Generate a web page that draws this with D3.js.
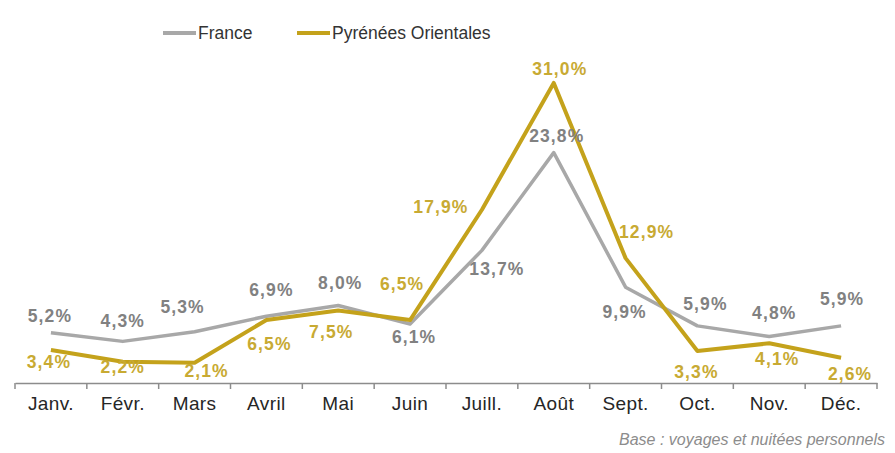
<!DOCTYPE html>
<html>
<head>
<meta charset="utf-8">
<script src="https://cdn.jsdelivr.net/npm/d3@7"></script>
<style>
    body { margin: 0; background: #fff; }
    text { font-family: "Liberation Sans", Arial, sans-serif; }
</style>
</head>
<body>
<svg id="drawing_region"></svg>
<script>
const months = ['Janv.', 'Févr.', 'Mars', 'Avril', 'Mai', 'Juin', 'Juill.', 'Août', 'Sept.', 'Oct.', 'Nov.', 'Déc.'];
const france = [5.2, 4.3, 5.3, 6.9, 8.0, 6.1, 13.7, 23.8, 9.9, 5.9, 4.8, 5.9];
const pyrenees = [3.4, 2.2, 2.1, 6.5, 7.5, 6.5, 17.9, 31.0, 12.9, 3.3, 4.1, 2.6];
const seriesNames = ['France', 'Pyrénées Orientales'];

// label offsets (dx, dy from the point to the text baseline)
const franceLabelPos = [[-1, -11], [0, -14], [-12, -19], [5, -20], [2, -17], [4, 19],
    [15, 25], [3, -11], [-1, 31], [8, -16], [5, -18], [1, -21]];
const pyreneesLabelPos = [[-2, 18], [0, 11], [12, 14], [3, 30], [-7, 28], [-8, -30],
    [-41, 3], [6, -8], [21, -20], [-1, 27], [8, 22], [9, 22]];

class LineChart {

    constructor(config) {
        this.config = config;
        this.init();
    }

    init() {
        let self = this;

        self.svg = d3.select(self.config.parent)
            .attr('width', self.config.width)
            .attr('height', self.config.height);

        self.xscale = d3.scaleBand()
            .domain(months)
            .range([15, 877]);

        self.yscale = d3.scaleLinear()
            .domain([0, 35])
            .range([383, 383 - 9.68 * 35]);

        self.line = d3.line()
            .x((d, i) => self.xscale(months[i]) + self.xscale.bandwidth() / 2)
            .y(d => self.yscale(d));
    }

    render() {
        let self = this;
        const fmt = v => d3.format('.1f')(v).replace('.', ',') + '%';

        // x axis
        const axis = d3.axisBottom(self.xscale).tickSize(0).tickPadding(14);
        const ag = self.svg.append('g')
            .attr('transform', 'translate(0,383)')
            .call(axis);
        ag.select('.domain').attr('stroke', '#8c8c8c').attr('stroke-width', 1.5);
        ag.selectAll('text')
            .attr('font-size', 19)
            .attr('letter-spacing', 0.4)
            .attr('fill', '#262626')
            .attr('font-family', '"Liberation Sans", Arial, sans-serif');
        const bounds = months.map(m => self.xscale(m)).concat([877]);
        ag.selectAll('.sep')
            .data(bounds)
            .enter()
            .append('line')
            .attr('x1', d => d).attr('x2', d => d)
            .attr('y1', 0).attr('y2', 6)
            .attr('stroke', '#8c8c8c')
            .attr('stroke-width', 1.5);

        const series = [
            { name: seriesNames[0], values: france, line: '#a8a8a8', label: '#818181', pos: franceLabelPos, w: 3.5 },
            { name: seriesNames[1], values: pyrenees, line: '#c4a21b', label: '#c8aa33', pos: pyreneesLabelPos, w: 4 }
        ];

        series.forEach(s => {
            self.svg.append('path')
                .datum(s.values)
                .attr('d', self.line)
                .attr('fill', 'none')
                .attr('stroke', s.line)
                .attr('stroke-width', s.w)
                .attr('stroke-linejoin', 'round');
        });

        series.forEach(s => {
            self.svg.selectAll(null)
                .data(s.values)
                .enter()
                .append('text')
                .attr('x', (d, i) => self.xscale(months[i]) + self.xscale.bandwidth() / 2 + s.pos[i][0])
                .attr('y', (d, i) => self.yscale(d) + s.pos[i][1])
                .attr('text-anchor', 'middle')
                .attr('font-size', 17.5)
                .attr('font-weight', 'bold')
                .attr('letter-spacing', 1.1)
                .attr('fill', s.label)
                .text(d => fmt(d));
        });

        // legend
        const legendX = [163, 297];
        series.forEach((s, i) => {
            self.svg.append('line')
                .attr('x1', legendX[i]).attr('x2', legendX[i] + 33)
                .attr('y1', 33).attr('y2', 33)
                .attr('stroke', s.line)
                .attr('stroke-width', 4);
            self.svg.append('text')
                .attr('x', legendX[i] + 35)
                .attr('y', 39)
                .attr('font-size', 17.5)
                .attr('fill', '#333')
                .text(s.name);
        });

        self.svg.append('text')
            .attr('x', 885)
            .attr('y', 445)
            .attr('text-anchor', 'end')
            .attr('font-size', 16)
            .attr('font-style', 'italic')
            .attr('fill', '#8c8c8c')
            .text('Base : voyages et nuitées personnels');
    }
}

const chart = new LineChart({ parent: '#drawing_region', width: 895, height: 453 });
chart.render();
</script>
</body>
</html>
